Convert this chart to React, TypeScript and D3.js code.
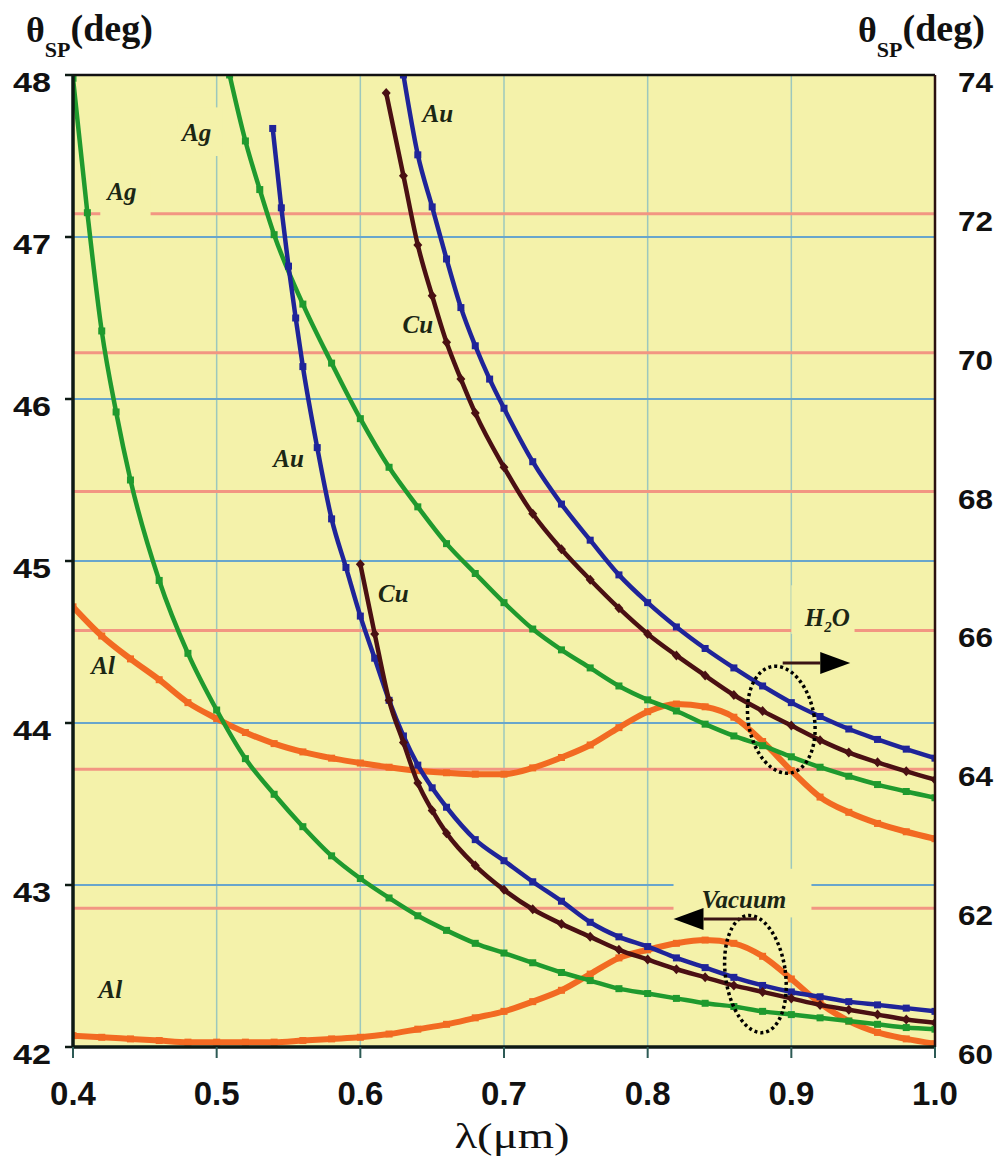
import React from 'react';
import * as d3 from 'd3';

// values: [wavelength (um), theta_SP (deg)]
// vacuum curves -> left axis
const agVacuum: [number, number][] = [
  [0.40, 47.98], [0.41, 47.15], [0.42, 46.42], [0.43, 45.92], [0.44, 45.50], [0.46, 44.88],
  [0.48, 44.43], [0.50, 44.08], [0.52, 43.78], [0.54, 43.56], [0.56, 43.36], [0.58, 43.18],
  [0.60, 43.04], [0.62, 42.92], [0.64, 42.81], [0.66, 42.72], [0.68, 42.64], [0.70, 42.58],
  [0.72, 42.52], [0.74, 42.46], [0.76, 42.41], [0.78, 42.36], [0.80, 42.33], [0.82, 42.30],
  [0.84, 42.27], [0.86, 42.25], [0.88, 42.22], [0.90, 42.20], [0.92, 42.18], [0.94, 42.16],
  [0.96, 42.14], [0.98, 42.12], [1.00, 42.11],
];
const auVacuum: [number, number][] = [
  [0.539, 47.67], [0.545, 47.18], [0.55, 46.82], [0.555, 46.50], [0.56, 46.20], [0.57, 45.70],
  [0.58, 45.26], [0.59, 44.96], [0.60, 44.66], [0.61, 44.40], [0.62, 44.14], [0.63, 43.92],
  [0.64, 43.74], [0.65, 43.60], [0.66, 43.48], [0.68, 43.28], [0.70, 43.15], [0.72, 43.02],
  [0.74, 42.90], [0.76, 42.77], [0.78, 42.68], [0.80, 42.62], [0.82, 42.55], [0.84, 42.49],
  [0.86, 42.43], [0.88, 42.38], [0.90, 42.34], [0.92, 42.31], [0.94, 42.28], [0.96, 42.26],
  [0.98, 42.24], [1.00, 42.22],
];
const cuVacuum: [number, number][] = [
  [0.60, 44.98], [0.61, 44.55], [0.62, 44.14], [0.63, 43.88], [0.64, 43.63], [0.65, 43.46],
  [0.66, 43.32], [0.68, 43.12], [0.70, 42.97], [0.72, 42.85], [0.74, 42.76], [0.76, 42.68],
  [0.78, 42.60], [0.80, 42.54], [0.82, 42.48], [0.84, 42.43], [0.86, 42.38], [0.88, 42.34],
  [0.90, 42.30], [0.92, 42.26], [0.94, 42.23], [0.96, 42.20], [0.98, 42.17], [1.00, 42.15],
];
const alVacuum: [number, number][] = [
  [0.40, 42.07], [0.42, 42.06], [0.44, 42.05], [0.46, 42.04], [0.48, 42.03], [0.50, 42.03],
  [0.52, 42.03], [0.54, 42.03], [0.56, 42.04], [0.58, 42.05], [0.60, 42.06], [0.62, 42.08],
  [0.64, 42.11], [0.66, 42.14], [0.68, 42.18], [0.70, 42.22], [0.72, 42.28], [0.74, 42.35],
  [0.76, 42.45], [0.78, 42.55], [0.80, 42.60], [0.82, 42.64], [0.84, 42.66], [0.86, 42.64],
  [0.88, 42.56], [0.90, 42.42], [0.92, 42.27], [0.94, 42.16], [0.96, 42.09], [0.98, 42.05],
  [1.00, 42.02],
];

// water curves -> right axis
const agWater: [number, number][] = [
  [0.509, 74.0], [0.52, 73.05], [0.53, 72.35], [0.54, 71.70], [0.56, 70.70], [0.58, 69.85],
  [0.60, 69.05], [0.62, 68.35], [0.64, 67.78], [0.66, 67.25], [0.68, 66.82], [0.70, 66.40],
  [0.72, 66.02], [0.74, 65.72], [0.76, 65.46], [0.78, 65.20], [0.80, 65.00], [0.82, 64.84],
  [0.84, 64.65], [0.86, 64.48], [0.88, 64.34], [0.90, 64.18], [0.92, 64.03], [0.94, 63.90],
  [0.96, 63.78], [0.98, 63.68], [1.00, 63.59],
];
const auWater: [number, number][] = [
  [0.63, 74.0], [0.64, 72.85], [0.65, 72.10], [0.66, 71.35], [0.67, 70.65], [0.68, 70.10],
  [0.69, 69.62], [0.70, 69.20], [0.72, 68.43], [0.74, 67.82], [0.76, 67.30], [0.78, 66.80],
  [0.80, 66.40], [0.82, 66.05], [0.84, 65.74], [0.86, 65.46], [0.88, 65.20], [0.90, 64.96],
  [0.92, 64.76], [0.94, 64.58], [0.96, 64.43], [0.98, 64.29], [1.00, 64.16],
];
const cuWater: [number, number][] = [
  [0.618, 73.74], [0.63, 72.55], [0.64, 71.55], [0.65, 70.82], [0.66, 70.15], [0.67, 69.62],
  [0.68, 69.13], [0.70, 68.35], [0.72, 67.68], [0.74, 67.17], [0.76, 66.73], [0.78, 66.32],
  [0.80, 65.95], [0.82, 65.64], [0.84, 65.35], [0.86, 65.07], [0.88, 64.84], [0.90, 64.63],
  [0.92, 64.42], [0.94, 64.24], [0.96, 64.10], [0.98, 63.97], [1.00, 63.85],
];
const alWater: [number, number][] = [
  [0.40, 66.34], [0.42, 65.92], [0.44, 65.59], [0.46, 65.29], [0.48, 64.96], [0.50, 64.73],
  [0.52, 64.53], [0.54, 64.37], [0.56, 64.25], [0.58, 64.16], [0.60, 64.09], [0.62, 64.03],
  [0.64, 63.98], [0.66, 63.95], [0.68, 63.93], [0.70, 63.93], [0.72, 64.02], [0.74, 64.17],
  [0.76, 64.35], [0.78, 64.60], [0.80, 64.83], [0.82, 64.94], [0.84, 64.90], [0.86, 64.75],
  [0.88, 64.40], [0.90, 63.98], [0.92, 63.60], [0.94, 63.38], [0.96, 63.22], [0.98, 63.10],
  [1.00, 63.00],
];

const xTicks = [0.4, 0.5, 0.6, 0.7, 0.8, 0.9, 1.0];
const xTickLabels = ['0.4', '0.5', '0.6', '0.7', '0.8', '0.9', '1.0'];
const leftTicks = [42, 43, 44, 45, 46, 47, 48];
const rightTicks = [60, 62, 64, 66, 68, 70, 72, 74];

const W = 1000;
const H = 1162;
const left = 73, right = 935, top = 75, bottom = 1047;

const BG = '#f4f2aa';
const GREEN = '#1f9a2e';
const BLUE = '#1f2499';
const BROWN = '#4a1013';
const ORANGE = '#f26a22';
const LABEL = '#1b2614';

const serif = '"Liberation Serif", "Times New Roman", serif';
const sans = '"Liberation Sans", Arial, sans-serif';

export default function App() {
  const x = d3.scaleLinear().domain([0.4, 1.0]).range([left, right]);
  const yL = d3.scaleLinear().domain([42, 48]).range([bottom, top]);
  const yR = d3.scaleLinear().domain([60, 74]).range([bottom, top]);

  const lineL = d3.line<[number, number]>().x(d => x(d[0])).y(d => yL(d[1])).curve(d3.curveMonotoneX);
  const lineR = d3.line<[number, number]>().x(d => x(d[0])).y(d => yR(d[1])).curve(d3.curveMonotoneX);

  const series = [
    { data: alWater, y: yR, line: lineR, color: ORANGE, w: 6, mark: 'sq' },
    { data: agWater, y: yR, line: lineR, color: GREEN, w: 4.5, mark: 'sq' },
    { data: cuWater, y: yR, line: lineR, color: BROWN, w: 4.5, mark: 'dia' },
    { data: auWater, y: yR, line: lineR, color: BLUE, w: 4.5, mark: 'sq' },
    { data: alVacuum, y: yL, line: lineL, color: ORANGE, w: 6, mark: 'sq' },
    { data: agVacuum, y: yL, line: lineL, color: GREEN, w: 4.5, mark: 'sq' },
    { data: auVacuum, y: yL, line: lineL, color: BLUE, w: 4.5, mark: 'sq' },
    { data: cuVacuum, y: yL, line: lineL, color: BROWN, w: 4.5, mark: 'dia' },
  ];

  // label boxes that cut the grid lines
  const boxes = [
    { x0: 0.473, x1: 0.504, y0: 47.8, y1: 47.5 },
    { x0: 0.419, x1: 0.454, y0: 47.4, y1: 47.12 },
    { x0: 0.9, x1: 0.944, y0: 44.85, y1: 44.55 },
    { x0: 0.818, x1: 0.914, y0: 43.1, y1: 42.8 },
  ];

  const labels = [
    { t: 'Ag', vx: 0.486, vy: 47.59 },
    { t: 'Ag', vx: 0.434, vy: 47.23 },
    { t: 'Au', vx: 0.654, vy: 47.71 },
    { t: 'Cu', vx: 0.64, vy: 46.41 },
    { t: 'Au', vx: 0.55, vy: 45.58 },
    { t: 'Cu', vx: 0.623, vy: 44.75 },
    { t: 'Al', vx: 0.421, vy: 44.3 },
    { t: 'Al', vx: 0.426, vy: 42.3 },
  ];

  const h2oEllipse = { vx: 0.893, vy: 44.02, rx: 33, ry: 54 };
  const vacEllipse = { vx: 0.875, vy: 42.45, rx: 30, ry: 59 };
  const h2oArrow = { x0: 0.894, x1: 0.941, vy: 44.37 };
  const vacArrow = { x0: 0.876, x1: 0.818, vy: 42.79 };

  const arrow = (a: { x0: number; x1: number; vy: number }) => {
    const sx = x(a.x0), tx = x(a.x1), yy = yL(a.vy);
    const dir = Math.sign(tx - sx);
    const bx = tx - dir * 30;
    return (
      <g>
        <line x1={sx} y1={yy} x2={bx} y2={yy} stroke="#3a1414" strokeWidth={3} />
        <polygon points={`${bx},${yy - 11} ${tx},${yy} ${bx},${yy + 11}`} fill="#000" />
      </g>
    );
  };

  // theta_SP(deg) as one text run
  const axisTitle = (tx: number) => (
    <text x={tx} y={42} fontFamily={serif} fontWeight="bold" fontSize={36} fill="#111">
      θ<tspan fontSize={22} dy={15}>SP</tspan>
      <tspan fontSize={38} dy={-16}>(deg)</tspan>
    </text>
  );

  return (
    <svg width={W} height={H} style={{ position: 'absolute', left: 0, top: 0, background: '#fff' }}>
      <defs>
        <clipPath id="plot">
          <rect x={left} y={top} width={right - left} height={bottom - top} />
        </clipPath>
      </defs>

      <rect x={left} y={top} width={right - left} height={bottom - top} fill={BG} />

      {xTicks.slice(1, -1).map(v => (
        <line key={'gx' + v} x1={x(v)} x2={x(v)} y1={top} y2={bottom} stroke="#9cc8bd" strokeWidth={1.5} />
      ))}
      {leftTicks.slice(1, -1).map(v => (
        <line key={'gl' + v} x1={left} x2={right} y1={yL(v)} y2={yL(v)} stroke="#68a6cc" strokeWidth={2} />
      ))}
      {rightTicks.slice(1, -1).map(v => (
        <line key={'gr' + v} x1={left} x2={right} y1={yR(v)} y2={yR(v)} stroke="#f29682" strokeWidth={3} />
      ))}

      {boxes.map((b, i) => (
        <rect key={'b' + i} x={x(b.x0)} y={yL(b.y0)} width={x(b.x1) - x(b.x0)} height={yL(b.y1) - yL(b.y0)} fill={BG} />
      ))}

      <g clipPath="url(#plot)">
        {series.map((s, i) => (
          <g key={'s' + i}>
            <path d={s.line(s.data) || ''} fill="none" stroke={s.color} strokeWidth={s.w} strokeLinejoin="round" />
            {s.data.map((d, j) => {
              const px = x(d[0]), py = s.y(d[1]);
              return s.mark === 'dia' ? (
                <polygon key={j} points={`${px},${py - 5} ${px + 4.5},${py} ${px},${py + 5} ${px - 4.5},${py}`} fill={s.color} />
              ) : (
                <rect key={j} x={px - 3.5} y={py - 3.5} width={7} height={7} fill={s.color} />
              );
            })}
          </g>
        ))}
      </g>

      {labels.map((l, i) => (
        <text key={'l' + i} x={x(l.vx)} y={yL(l.vy)} textAnchor="middle" fontFamily={serif}
          fontStyle="italic" fontWeight="bold" fontSize={25} fill={LABEL}>{l.t}</text>
      ))}
      <text x={x(0.925)} y={yL(44.6)} textAnchor="middle" fontFamily={serif} fontStyle="italic"
        fontWeight="bold" fontSize={25} fill={LABEL}>
        H<tspan fontSize={15} dy={6}>2</tspan><tspan dy={-6}>O</tspan>
      </text>
      <text x={x(0.867)} y={yL(42.855)} textAnchor="middle" fontFamily={serif} fontStyle="italic"
        fontWeight="bold" fontSize={25} fill={LABEL}>Vacuum</text>

      <ellipse cx={x(h2oEllipse.vx)} cy={yL(h2oEllipse.vy)} rx={h2oEllipse.rx} ry={h2oEllipse.ry}
        transform={`rotate(-10 ${x(h2oEllipse.vx)} ${yL(h2oEllipse.vy)})`}
        fill="none" stroke="#000" strokeWidth={3.5} strokeDasharray="3 3" />
      <ellipse cx={x(vacEllipse.vx)} cy={yL(vacEllipse.vy)} rx={vacEllipse.rx} ry={vacEllipse.ry}
        transform={`rotate(-8 ${x(vacEllipse.vx)} ${yL(vacEllipse.vy)})`}
        fill="none" stroke="#000" strokeWidth={3.5} strokeDasharray="3 3" />
      {arrow(h2oArrow)}
      {arrow(vacArrow)}

      {/* frame */}
      <line x1={left} x2={right} y1={top} y2={top} stroke="#111" strokeWidth={2.5} />
      <line x1={right} x2={right} y1={top} y2={bottom} stroke="#2a1010" strokeWidth={2.5} />
      <line x1={left} x2={left} y1={top} y2={bottom + 1} stroke="#0d1a14" strokeWidth={3.5} />
      <line x1={left} x2={right + 1} y1={bottom} y2={bottom} stroke="#0d1a14" strokeWidth={3.5} />

      {leftTicks.map(v => (
        <g key={'lt' + v}>
          <line x1={left - 8} x2={left} y1={yL(v)} y2={yL(v)} stroke="#0d1a14" strokeWidth={2.5} />
          <text x={51} y={yL(v) + 17} textAnchor="end" fontFamily={sans} fontWeight="bold" fontSize={27}
            textLength={38} lengthAdjust="spacingAndGlyphs" fill="#111">{v}</text>
        </g>
      ))}
      {rightTicks.map(v => (
        <text key={'rt' + v} x={958} y={yR(v) + 17} fontFamily={sans} fontWeight="bold" fontSize={27}
          textLength={35} lengthAdjust="spacingAndGlyphs" fill="#111">{v}</text>
      ))}
      {xTicks.map((v, i) => (
        <g key={'xt' + v}>
          <line x1={x(v)} x2={x(v)} y1={bottom} y2={bottom + 11} stroke="#2c5a55" strokeWidth={2} />
          <text x={x(v)} y={1105} textAnchor="middle" fontFamily={sans} fontWeight="bold" fontSize={33} fill="#111">
            {xTickLabels[i]}
          </text>
        </g>
      ))}

      {axisTitle(26)}
      {axisTitle(858)}

      <text x={512} y={1148} textAnchor="middle" fontFamily={serif} fontSize={36} fill="#111"
        textLength={115} lengthAdjust="spacingAndGlyphs">λ(μm)</text>
    </svg>
  );
}
